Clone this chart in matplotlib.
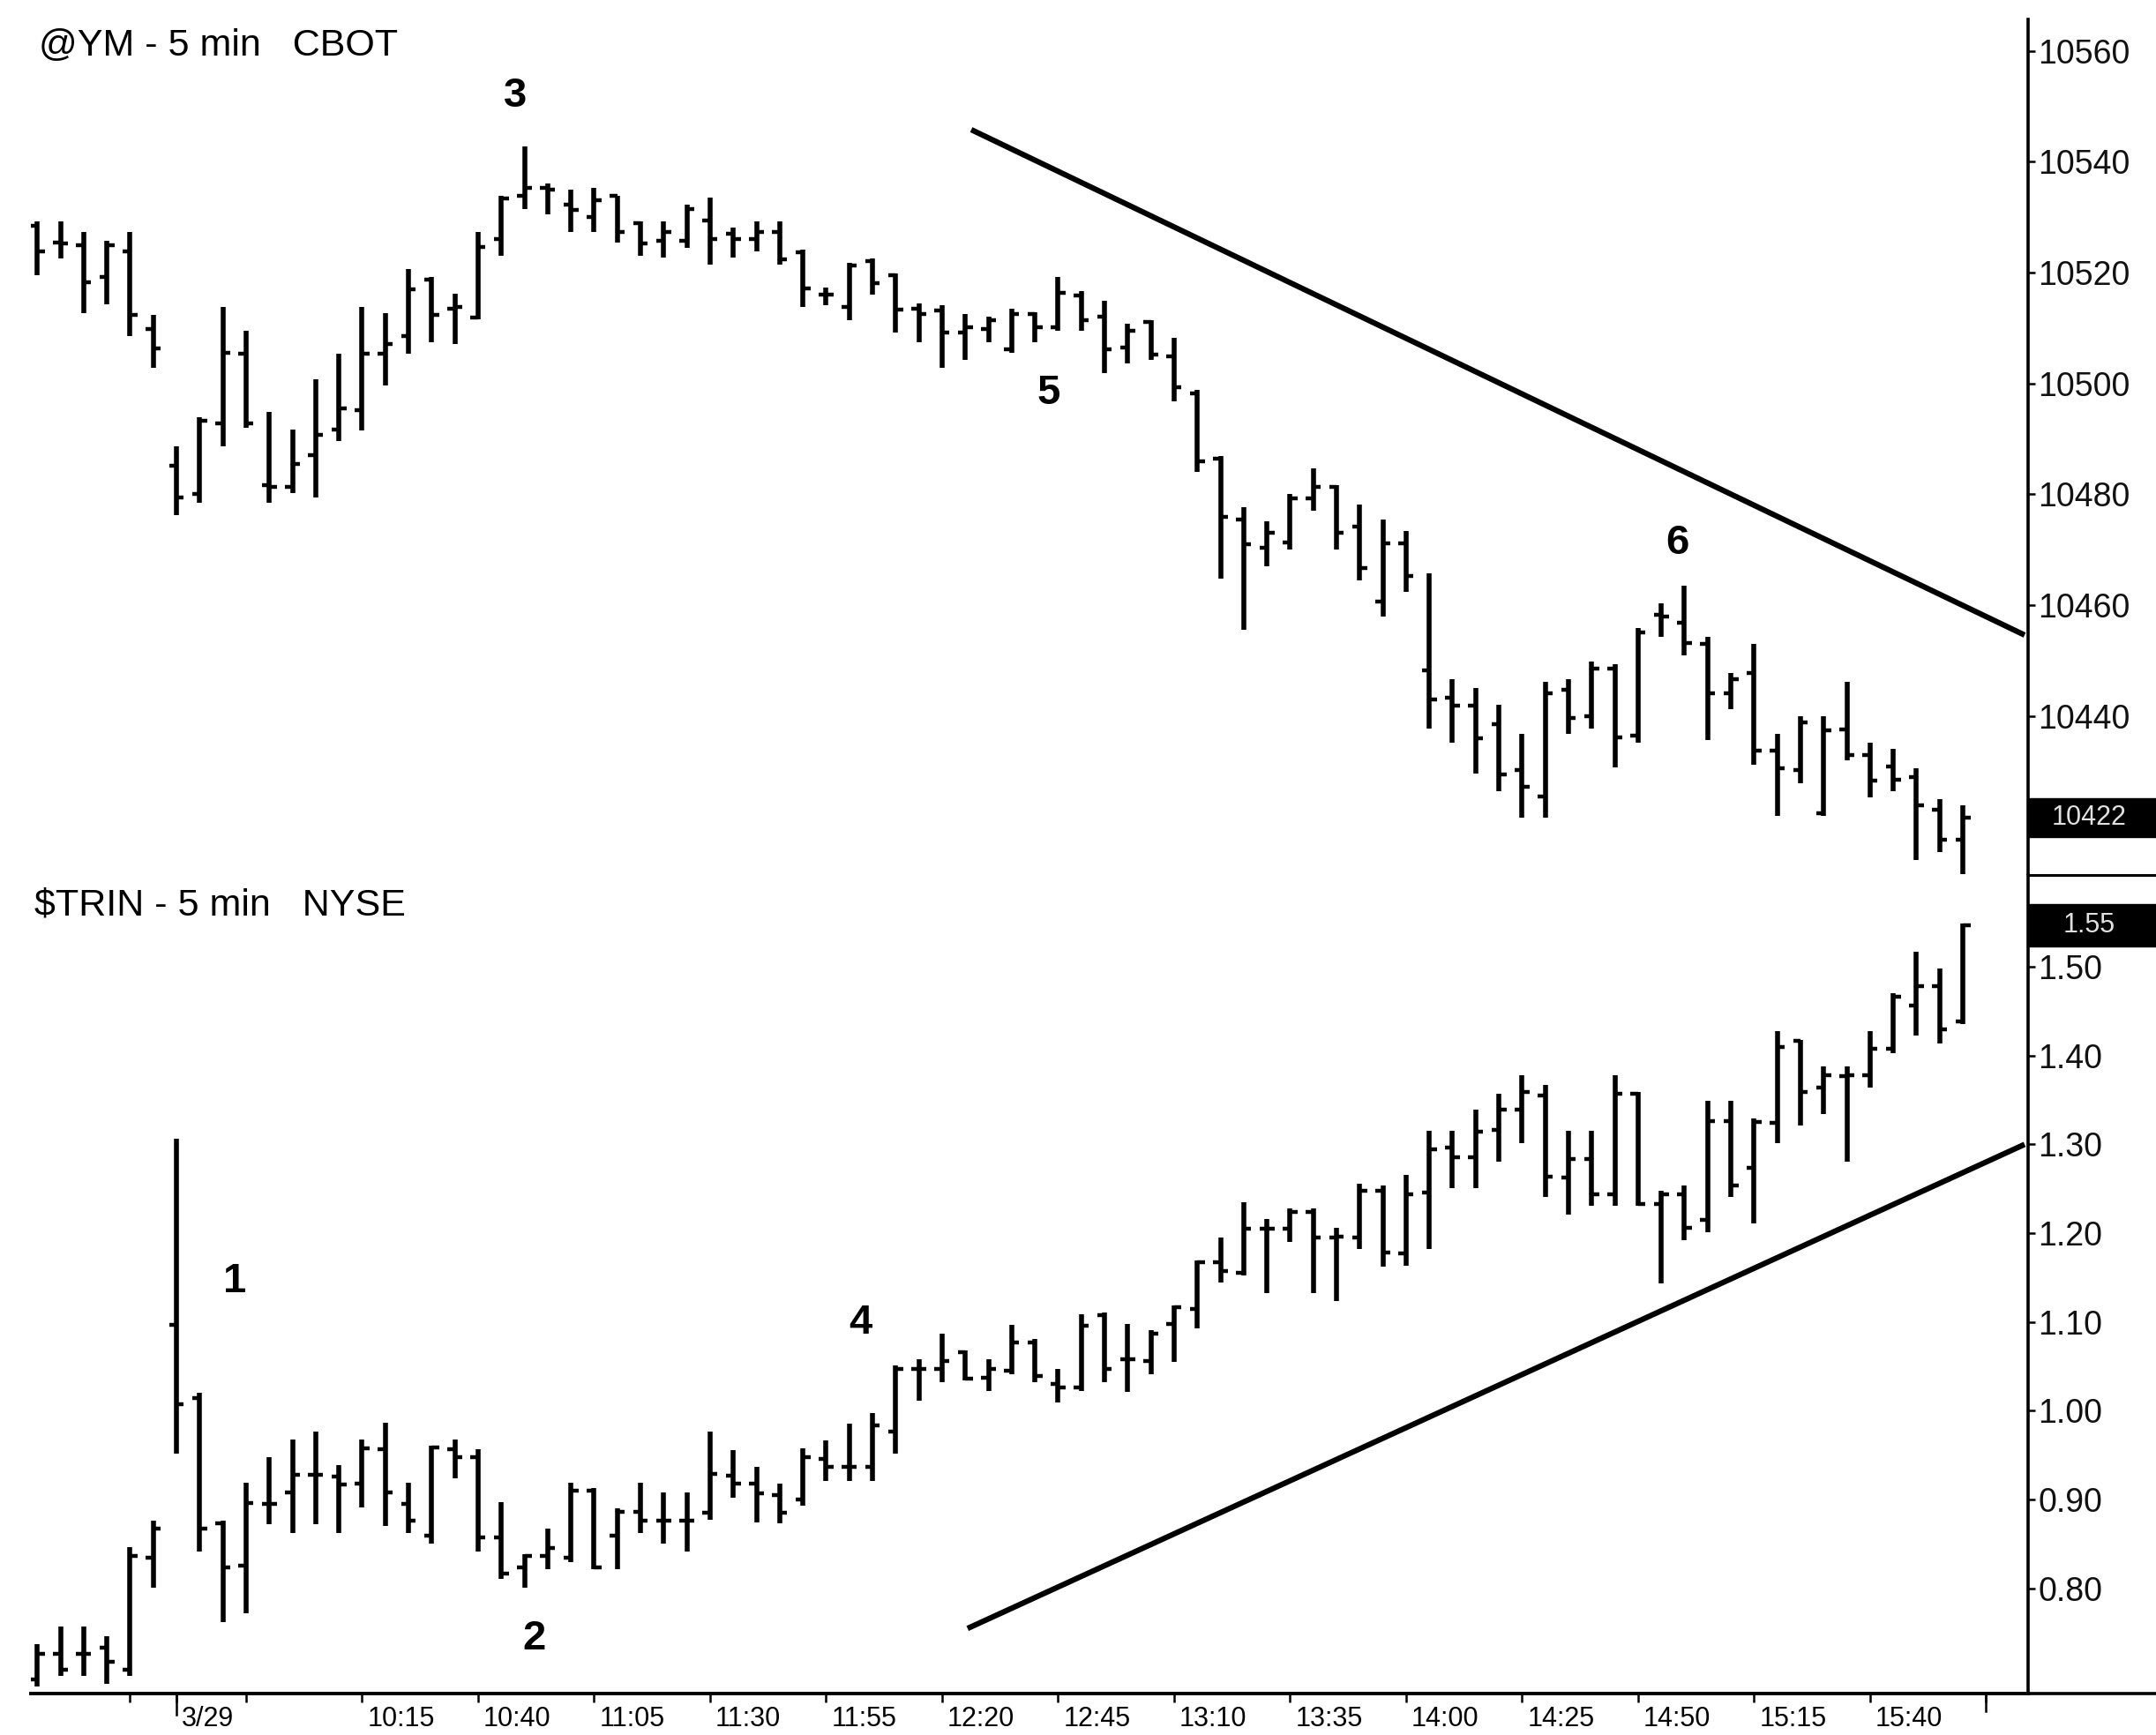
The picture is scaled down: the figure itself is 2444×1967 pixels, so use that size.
import matplotlib
matplotlib.use("Agg")
import matplotlib.pyplot as plt
import matplotlib.transforms as mtransforms
from matplotlib import font_manager
from matplotlib.lines import Line2D
from matplotlib.patches import Rectangle

# ---------------- data ----------------
prev_day_times = ["15:35", "15:40", "15:45", "15:50", "15:55", "16:00"]
day_times = []
for k in range(78):
    m = 9 * 60 + 35 + 5 * k
    day_times.append(f"{m // 60}:{m % 60:02d}")
bar_times = prev_day_times + day_times

ym_open = [10528.4, 10525.4, 10524.9, 10519.3, 10523.8, 10509.8,
           10485.1, 10480.1, 10492.8, 10505.3, 10481.6, 10481.4, 10487.0, 10491.7, 10495.2, 10505.3,
           10508.5, 10518.8, 10513.5, 10511.9, 10526.0, 10533.9, 10535.3, 10532.3, 10530.0, 10533.9,
           10528.9, 10525.7, 10525.7, 10529.4, 10527.0, 10526.1, 10527.3, 10523.6, 10516.0, 10513.8,
           10522.1, 10519.6, 10513.5, 10513.2, 10509.2, 10509.8, 10506.2, 10512.6, 10510.1, 10515.9,
           10512.0, 10506.5, 10511.1, 10504.9, 10498.2, 10486.5, 10475.5, 10470.3, 10471.3, 10479.2,
           10481.4, 10474.2, 10460.7, 10471.1, 10448.3, 10443.3, 10441.9, 10438.5, 10430.3, 10425.5,
           10444.7, 10439.9, 10448.6, 10436.5, 10458.2, 10456.8, 10453.0, 10444.1, 10447.8, 10433.7,
           10430.3, 10422.5, 10437.6, 10432.9, 10430.9, 10428.9, 10423.0, 10417.7]
ym_high = [10529.2, 10529.2, 10527.3, 10525.7, 10527.3, 10512.4,
           10488.6, 10493.9, 10513.8, 10509.5, 10494.9, 10491.7, 10500.8, 10505.3, 10513.8, 10512.7,
           10520.7, 10519.3, 10516.2, 10527.3, 10533.9, 10542.7, 10536.1, 10535.0, 10535.3, 10533.9,
           10529.2, 10529.2, 10532.3, 10533.6, 10528.2, 10529.3, 10529.3, 10524.2, 10517.3, 10521.8,
           10522.6, 10519.9, 10514.4, 10514.1, 10512.6, 10512.0, 10513.5, 10512.9, 10519.3, 10516.6,
           10515.0, 10510.8, 10511.4, 10508.3, 10498.8, 10486.9, 10477.7, 10475.2, 10480.1, 10484.7,
           10481.7, 10478.2, 10475.5, 10473.3, 10465.8, 10446.6, 10445.1, 10442.0, 10436.7, 10446.1,
           10446.6, 10449.9, 10449.3, 10455.9, 10460.3, 10463.5, 10454.2, 10447.8, 10453.0, 10436.7,
           10439.9, 10439.9, 10446.1, 10435.1, 10434.0, 10430.6, 10425.0, 10423.9]
ym_low = [10519.6, 10522.5, 10512.7, 10514.3, 10508.5, 10502.9,
          10476.3, 10478.5, 10488.6, 10492.0, 10478.5, 10480.3, 10479.5, 10489.6, 10491.5, 10499.7,
          10505.3, 10507.4, 10507.1, 10511.6, 10523.1, 10531.5, 10530.5, 10527.3, 10527.3, 10525.4,
          10523.1, 10522.8, 10524.4, 10521.5, 10522.7, 10523.9, 10521.5, 10513.8, 10514.1, 10511.4,
          10516.0, 10509.2, 10507.4, 10502.8, 10504.3, 10507.4, 10505.6, 10507.4, 10509.5, 10509.5,
          10501.9, 10503.7, 10504.3, 10496.7, 10484.1, 10464.8, 10455.6, 10467.0, 10470.0, 10477.1,
          10470.0, 10464.4, 10457.9, 10462.4, 10437.8, 10435.1, 10429.6, 10426.4, 10421.6, 10421.6,
          10436.8, 10437.7, 10430.7, 10435.1, 10454.2, 10451.0, 10435.7, 10441.2, 10431.2, 10421.9,
          10427.8, 10421.9, 10432.0, 10425.3, 10426.4, 10414.0, 10415.4, 10411.5]
ym_close = [10523.8, 10525.2, 10518.3, 10524.9, 10512.4, 10506.3,
            10479.5, 10493.3, 10505.5, 10492.8, 10481.4, 10485.4, 10490.7, 10495.5, 10505.3, 10507.1,
            10517.0, 10512.4, 10513.8, 10524.6, 10533.4, 10535.3, 10535.0, 10531.3, 10533.1, 10527.3,
            10525.2, 10527.3, 10531.5, 10526.1, 10526.1, 10527.3, 10522.4, 10517.2, 10516.0, 10521.3,
            10518.1, 10513.4, 10512.6, 10509.2, 10510.1, 10511.4, 10512.6, 10510.1, 10516.3, 10511.4,
            10506.2, 10509.5, 10505.2, 10499.4, 10485.9, 10475.9, 10471.0, 10473.1, 10479.2, 10481.4,
            10473.1, 10466.7, 10471.1, 10465.2, 10443.0, 10441.9, 10435.9, 10429.5, 10427.2, 10444.1,
            10439.6, 10448.6, 10436.2, 10455.1, 10457.9, 10453.1, 10444.1, 10446.6, 10433.7, 10430.6,
            10438.8, 10437.4, 10432.9, 10428.4, 10428.5, 10423.9, 10417.7, 10421.6]

trin_open = [0.698, 0.726, 0.726, 0.733, 0.709, 0.835,
             1.097, 1.014, 0.873, 0.826, 0.895, 0.908, 0.928, 0.926, 0.918, 0.957,
             0.895, 0.859, 0.957, 0.948, 0.857, 0.824, 0.837, 0.835, 0.910, 0.859,
             0.886, 0.876, 0.876, 0.885, 0.927, 0.918, 0.905, 0.900, 0.946, 0.937,
             0.937, 0.977, 1.047, 1.047, 1.066, 1.037, 1.045, 1.077, 1.030, 1.026,
             1.108, 1.058, 1.056, 1.098, 1.115, 1.167, 1.155, 1.205, 1.205, 1.224,
             1.195, 1.195, 1.248, 1.177, 1.246, 1.296, 1.286, 1.316, 1.339, 1.355,
             1.263, 1.284, 1.244, 1.357, 1.233, 1.244, 1.215, 1.326, 1.274, 1.324,
             1.417, 1.364, 1.377, 1.378, 1.408, 1.456, 1.478, 1.438]
trin_high = [0.737, 0.757, 0.757, 0.746, 0.847, 0.876,
             1.306, 1.020, 0.876, 0.919, 0.948, 0.968, 0.977, 0.939, 0.968, 0.987,
             0.919, 0.961, 0.968, 0.957, 0.897, 0.839, 0.867, 0.919, 0.913, 0.890,
             0.919, 0.908, 0.908, 0.977, 0.956, 0.937, 0.918, 0.958, 0.967, 0.986,
             0.998, 1.051, 1.058, 1.087, 1.068, 1.058, 1.097, 1.081, 1.047, 1.109,
             1.111, 1.098, 1.091, 1.119, 1.169, 1.195, 1.235, 1.216, 1.228, 1.228,
             1.206, 1.256, 1.254, 1.266, 1.315, 1.315, 1.339, 1.357, 1.378, 1.367,
             1.315, 1.315, 1.378, 1.359, 1.248, 1.254, 1.349, 1.349, 1.329, 1.428,
             1.418, 1.388, 1.388, 1.428, 1.470, 1.517, 1.498, 1.549]
trin_low = [0.690, 0.702, 0.702, 0.693, 0.702, 0.801,
            0.952, 0.842, 0.762, 0.772, 0.872, 0.862, 0.872, 0.862, 0.891, 0.870,
            0.862, 0.851, 0.924, 0.842, 0.811, 0.801, 0.822, 0.830, 0.822, 0.822,
            0.862, 0.851, 0.842, 0.877, 0.902, 0.874, 0.873, 0.893, 0.921, 0.921,
            0.921, 0.952, 1.011, 1.032, 1.034, 1.022, 1.041, 1.032, 1.009, 1.022,
            1.032, 1.021, 1.041, 1.055, 1.093, 1.144, 1.152, 1.133, 1.190, 1.133,
            1.124, 1.182, 1.162, 1.163, 1.182, 1.251, 1.251, 1.281, 1.301, 1.241,
            1.221, 1.231, 1.231, 1.231, 1.143, 1.192, 1.201, 1.241, 1.211, 1.301,
            1.321, 1.334, 1.281, 1.364, 1.403, 1.423, 1.414, 1.435]
trin_close = [0.726, 0.709, 0.726, 0.717, 0.837, 0.867,
              1.007, 0.867, 0.824, 0.896, 0.895, 0.928, 0.928, 0.917, 0.958, 0.908,
              0.876, 0.959, 0.948, 0.857, 0.817, 0.837, 0.846, 0.910, 0.824, 0.886,
              0.876, 0.876, 0.876, 0.929, 0.918, 0.907, 0.885, 0.948, 0.937, 0.937,
              0.984, 1.047, 1.047, 1.056, 1.036, 1.047, 1.077, 1.039, 1.026, 1.096,
              1.047, 1.058, 1.087, 1.117, 1.167, 1.157, 1.205, 1.205, 1.224, 1.195,
              1.196, 1.248, 1.178, 1.244, 1.294, 1.286, 1.314, 1.339, 1.359, 1.264,
              1.284, 1.244, 1.357, 1.233, 1.244, 1.206, 1.326, 1.254, 1.325, 1.410,
              1.359, 1.378, 1.378, 1.408, 1.466, 1.478, 1.430, 1.547]

# x-axis labels: (bar time, label)
xtick_times = ["9:35", "10:15", "10:40", "11:05", "11:30", "11:55", "12:20",
               "12:45", "13:10", "13:35", "14:00", "14:25", "14:50", "15:15", "15:40"]
xtick_labels = ["3/29", "10:15", "10:40", "11:05", "11:30", "11:55", "12:20",
                "12:45", "13:10", "13:35", "14:00", "14:25", "14:50", "15:15", "15:40"]

ym_yticks = [10440, 10460, 10480, 10500, 10520, 10540, 10560]
trin_yticks = [0.80, 0.90, 1.00, 1.10, 1.20, 1.30, 1.40, 1.50]

ym_last_label = "10422"
trin_last_label = "1.55"

# trend lines: (bar position, value) of end points
ym_trend_x = [34.26, 79.66]
ym_trend_y = [10545.8, 10454.6]
trin_trend_x = [34.1, 79.66]
trin_trend_y = [0.755, 1.300]

# wave labels: text, bar position, value
ym_marks = [("3", 14.6, 10551.9), ("5", 37.6, 10498.2), ("6", 64.7, 10471.1)]
trin_marks = [("1", 2.5, 1.1455), ("2", 15.4, 0.743), ("4", 29.5, 1.099)]

# ---------------- fonts ----------------
def has_font(name):
    try:
        font_manager.findfont(font_manager.FontProperties(family=name), fallback_to_default=False)
        return True
    except Exception:
        return False

MAIN = "Liberation Sans" if has_font("Liberation Sans") else "DejaVu Sans"
NARROW = "Liberation Sans Narrow" if has_font("Liberation Sans Narrow") else MAIN
xlab_size = 28 if NARROW != MAIN else 22

plt.rcParams["font.family"] = [MAIN, "DejaVu Sans"]

# ---------------- figure ----------------
W, H = 2444, 1967
fig = plt.figure(figsize=(W / 100, H / 100), dpi=100)
fig.patch.set_facecolor("white")

XL, XR = 35, 2299
ax1 = fig.add_axes([XL / W, 1 - 992 / H, (XR - XL) / W, (992 - 22) / H])
ax2 = fig.add_axes([XL / W, 1 - 1920 / H, (XR - XL) / W, (1920 - 992) / H])

xpos = [i - len(prev_day_times) for i in range(len(bar_times))]
pos_of = {t: xpos[len(prev_day_times) + k] for k, t in enumerate(day_times)}

BAR_LW = 4.0
TICK_LEN = 0.32


def draw_ohlc(ax, o, h, l, c):
    ax.vlines(xpos, l, h, color="black", lw=BAR_LW, capstyle="butt")
    ax.hlines(o, [x - TICK_LEN for x in xpos], xpos, color="black", lw=BAR_LW * 0.8)
    ax.hlines(c, xpos, [x + TICK_LEN for x in xpos], color="black", lw=BAR_LW * 0.8)


draw_ohlc(ax1, ym_open, ym_high, ym_low, ym_close)
draw_ohlc(ax2, trin_open, trin_high, trin_low, trin_close)

ax1.plot(ym_trend_x, ym_trend_y, color="black", lw=4.5, solid_capstyle="butt")
ax2.plot(trin_trend_x, trin_trend_y, color="black", lw=4.5, solid_capstyle="butt")

for ax in (ax1, ax2):
    ax.set_xlim(-6.274, 79.81)
    for s in ("top", "left", "bottom"):
        ax.spines[s].set_visible(False)
    ax.spines["right"].set_linewidth(2.6)
    ax.yaxis.tick_right()
    ax.tick_params(axis="y", which="major", direction="out", length=6, width=1.8,
                   pad=2, labelsize=27, labelcolor="#111111")

ax1.set_ylim(10411.3, 10565.7)
ax2.set_ylim(0.6817, 1.6033)

ax1.set_yticks(ym_yticks)
ax1.set_yticklabels([str(v) for v in ym_yticks])
ax2.set_yticks(trin_yticks)
ax2.set_yticklabels([f"{v:.2f}" for v in trin_yticks])

ax1.set_xticks([])
ax2.spines["bottom"].set_visible(True)
ax2.spines["bottom"].set_linewidth(2.6)

major_pos = [pos_of[t] for t in xtick_times]
ax2.set_xticks(major_pos)
ax2.set_xticklabels([""] * len(major_pos))
ax2.set_xticks([-2, 3, 78], minor=True)
ax2.tick_params(axis="x", which="major", direction="out", length=7, width=1.8)
ax2.tick_params(axis="x", which="minor", direction="out", length=7, width=1.8)

bt = mtransforms.blended_transform_factory(ax2.transData, ax2.transAxes)
lab_off = mtransforms.ScaledTranslation(6 / 100, -14 / 100, fig.dpi_scale_trans)
for xp, lab in zip(major_pos, xtick_labels):
    ax2.text(xp, 0, lab, transform=bt + lab_off, ha="left", va="top",
             fontsize=xlab_size, family=[NARROW, MAIN], clip_on=False)

# long day-boundary ticks
for xp, ln in ((pos_of["9:35"], 24), (78, 20)):
    ax2.add_line(Line2D([xp, xp], [0, -ln / 928], transform=bt, color="black",
                        lw=1.8, clip_on=False))

# lines extending to the right edge of the figure
fig.add_artist(Line2D([XR / W, 1.0], [1 - 992 / H, 1 - 992 / H], color="black", lw=2.2,
                      transform=fig.transFigure))
fig.add_artist(Line2D([XL / W, 1.0], [1 - 1920 / H, 1 - 1920 / H], color="black", lw=2.6,
                      transform=fig.transFigure))

# last price boxes
for ax, val, txt, half in ((ax1, ym_close[-1], ym_last_label, 3.5),
                           (ax2, trin_close[-1], trin_last_label, 0.024)):
    tr = mtransforms.blended_transform_factory(fig.transFigure, ax.transData)
    fig.add_artist(Rectangle((XR / W, val - half), 1 - XR / W, 2 * half, transform=tr,
                             facecolor="black", edgecolor="black"))
    fig.text(2368 / W, val, txt, transform=tr, color="#e0e0e0", fontsize=22,
             ha="center", va="center")

# titles
fig.text(44 / W, 1 - 52 / H, "@YM - 5 min   CBOT", fontsize=31, ha="left", va="center")
fig.text(39 / W, 1 - 1026 / H, "$TRIN - 5 min   NYSE", fontsize=31, ha="left", va="center")

# wave labels
for ax, marks in ((ax1, ym_marks), (ax2, trin_marks)):
    for t, xp, yv in marks:
        ax.text(xp, yv, t, fontsize=34, fontweight="bold", ha="center", va="center")

fig.savefig("out.png", dpi=100, facecolor="white")
